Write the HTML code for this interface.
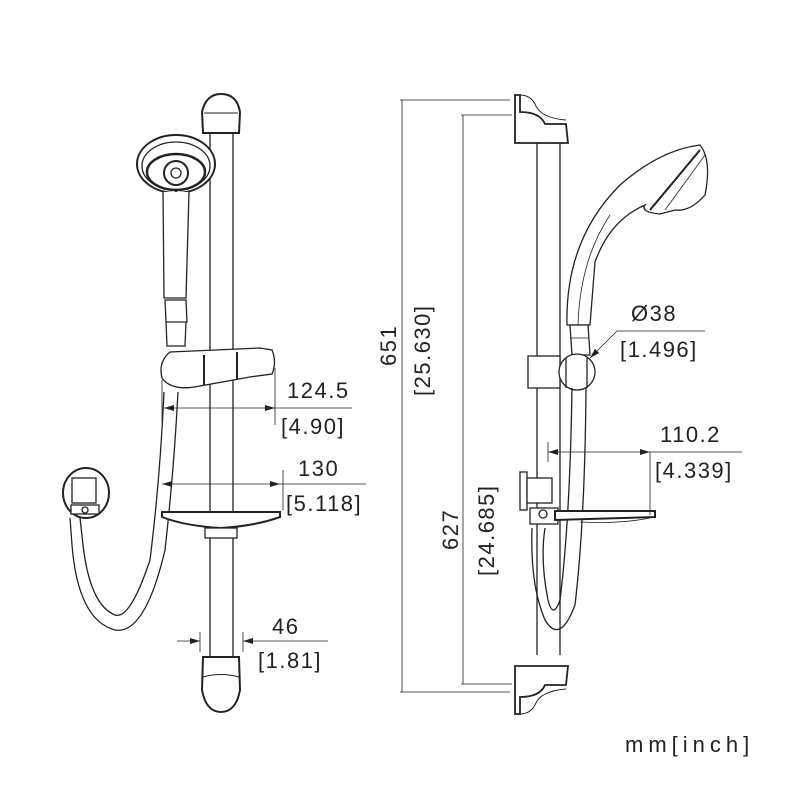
<!DOCTYPE html>
<html><head><style>body{margin:0;background:#fff}svg{display:block}text{font-family:"Liberation Sans",sans-serif;font-size:22px;letter-spacing:1.5px;fill:#222}</style></head>
<body>
<svg width="800" height="800" viewBox="0 0 800 800" xmlns="http://www.w3.org/2000/svg">
<defs><marker id="a" markerWidth="10" markerHeight="6" refX="10" refY="3" orient="auto-start-reverse" markerUnits="userSpaceOnUse"><path d="M0,0L10,3L0,6z" fill="#222"/></marker></defs>
<g fill="none" stroke="#222" stroke-width="1.3">
<line x1="210" y1="130" x2="210" y2="660"/><line x1="233" y1="130" x2="233" y2="660"/>
<path d="M203,133 L202,112 Q206,94 221,94 Q237,94 240,112 L239,133 Z" fill="#fff" stroke-width="2"/>
<path d="M204,113 L238,113" stroke-width="1"/>
<path d="M203,657 L239,657 L240,690 Q236,712 221,712 Q206,712 202,690 Z" fill="#fff" stroke-width="2"/>
<path d="M203,677 Q221,672 239,677" stroke-width="1"/>
<ellipse cx="176" cy="164" rx="39" ry="29" fill="#fff" stroke-width="2"/>
<ellipse cx="176" cy="166" rx="34" ry="24"/>
<ellipse cx="176" cy="172" rx="29" ry="18" stroke-width="2.5"/>
<circle cx="176" cy="173" r="12" stroke-width="2"/><circle cx="176" cy="173" r="5"/>
<line x1="176" y1="190" x2="176" y2="198" stroke-width="2"/>
<path d="M163,192 L164,298 L186,298 L189,192" fill="#fff"/>
<path d="M165,300 L186,300 L187,322 L166,322 Z"/><path d="M166,322 L167,346 L185,346 L186,322"/>
<path d="M170,352 L260,348 L272,350 Q277,362 272,374 L250,377 L200,386 Q172,392 162,378 Q158,362 170,352 Z" fill="#fff"/>
<line x1="204" y1="355" x2="204" y2="385" stroke-width="2"/><line x1="237" y1="352" x2="237" y2="380" stroke-width="2"/>
<path d="M164,392 Q160,480 150,560 Q130,620 115,615 Q90,605 83,545 L80,518"/>
<path d="M178,392 Q174,470 165,550 Q145,635 115,630 Q78,620 72,545 L70,518"/>
<ellipse cx="86" cy="493" rx="23" ry="25" fill="#fff" stroke-width="2"/>
<rect x="72" y="478" width="24" height="25" fill="#fff"/>
<rect x="71" y="505" width="28" height="9" fill="#fff"/><circle cx="85" cy="510" r="3"/>
<path d="M162,512 L280,512 L280,517 Q255,526 221,528 Q185,526 162,517 Z" fill="#fff" stroke-width="2"/>
<rect x="205" y="528" width="32" height="10" fill="#fff"/>
<line x1="162" y1="380" x2="162" y2="422" stroke-width="0.8"/><line x1="275" y1="368" x2="275" y2="425" stroke-width="0.8"/>
<line x1="164" y1="408" x2="275" y2="408" marker-start="url(#a)" marker-end="url(#a)" stroke-width="0.8"/><line x1="275" y1="408" x2="352" y2="408" stroke-width="0.8"/>
<line x1="162" y1="484" x2="280" y2="484" marker-start="url(#a)" marker-end="url(#a)" stroke-width="0.8"/><line x1="280" y1="484" x2="366" y2="484" stroke-width="0.8"/>
<line x1="283" y1="470" x2="283" y2="510" stroke-width="0.8"/>
<line x1="200" y1="632" x2="200" y2="652" stroke-width="0.8"/><line x1="243" y1="632" x2="243" y2="652" stroke-width="0.8"/>
<line x1="177" y1="641" x2="200" y2="641" marker-end="url(#a)" stroke-width="0.8"/><line x1="328" y1="641" x2="243" y2="641" marker-end="url(#a)" stroke-width="0.8"/>
<line x1="537" y1="140" x2="537" y2="655"/><line x1="560" y1="140" x2="560" y2="655"/>
<g id="br">
<path d="M515,95 L520,95 L520,112 Q540,112 545,124 L566,124 L568,143 L515,143 Z" fill="#fff" stroke-width="1.8"/>
<path d="M520,95 Q530,95 535,104 Q540,118 566,120" stroke-width="1"/>
</g>
<use href="#br" transform="translate(0,809) scale(1,-1)"/>
<path d="M567,325 Q565,240 620,185 Q660,150 700,145 Q712,160 705,195 Q690,212 675,210 L660,214 Q640,212 645,205 Q610,220 595,262 L590,325 Z" fill="#fff"/>
<path d="M578,325 Q580,260 610,215" stroke-width="0.8"/>
<path d="M650,210 L700,150" stroke-width="2"/><path d="M665,210 L705,155" stroke-width="0.8"/>
<path d="M570,325 L588,325 L590,355 L572,355 Z" fill="#fff"/>
<path d="M570,338 L589,338" stroke-width="0.8"/>
<rect x="528" y="356" width="32" height="32" fill="#fff"/>
<circle cx="577" cy="372" r="18" fill="#fff"/>
<line x1="566" y1="358" x2="566" y2="388"/><line x1="587" y1="358" x2="587" y2="388"/>
<path d="M572,388 Q570,520 560,600 Q553,620 548,600 Q540,560 545,528"/>
<path d="M586,388 Q585,520 575,605 Q560,645 545,620 Q530,585 532,528"/>
<rect x="520" y="472" width="7" height="38" fill="#fff"/><rect x="527" y="478" width="25" height="25" fill="#fff"/>
<rect x="530" y="508" width="28" height="16" fill="#fff"/><circle cx="543" cy="514" r="4" fill="#fff"/>
<path d="M555,511 L655,511 L655,517 L555,520 Z" fill="#fff" stroke-width="2"/>
<path d="M580,522 Q620,524 650,518" stroke-width="0.8"/>
<line x1="402" y1="100" x2="402" y2="692" stroke-width="0.8"/>
<line x1="400" y1="100" x2="510" y2="100" stroke-width="0.8"/><line x1="400" y1="692" x2="510" y2="692" stroke-width="0.8"/>
<line x1="463" y1="115" x2="463" y2="684" stroke-width="0.8"/>
<line x1="461" y1="115" x2="512" y2="115" stroke-width="0.8"/><line x1="461" y1="684" x2="512" y2="684" stroke-width="0.8"/>
<line x1="548" y1="442" x2="548" y2="462" stroke-width="0.8"/><line x1="650" y1="452" x2="650" y2="515" stroke-width="0.8"/>
<line x1="548" y1="452" x2="650" y2="452" marker-start="url(#a)" marker-end="url(#a)" stroke-width="0.8"/><line x1="650" y1="452" x2="742" y2="452" stroke-width="0.8"/>
<path d="M705,331 L617,331 L590,358" stroke-width="0.8" marker-end="url(#a)"/>
</g>
<text x="287" y="398">124.5</text><text x="281" y="434">[4.90]</text>
<text x="298" y="476">130</text><text x="286" y="511">[5.118]</text>
<text x="272" y="634">46</text><text x="258" y="668">[1.81]</text>
<text x="631" y="321">Ø38</text><text x="620" y="357">[1.496]</text>
<text x="660" y="442">110.2</text><text x="655" y="478">[4.339]</text>
<text transform="translate(396,366) rotate(-90)">651</text>
<text transform="translate(430,396) rotate(-90)">[25.630]</text>
<text transform="translate(458,550) rotate(-90)">627</text>
<text transform="translate(494,576) rotate(-90)">[24.685]</text>
<text x="625" y="752" style="letter-spacing:5px">mm[inch]</text>
</svg>
</body></html>
